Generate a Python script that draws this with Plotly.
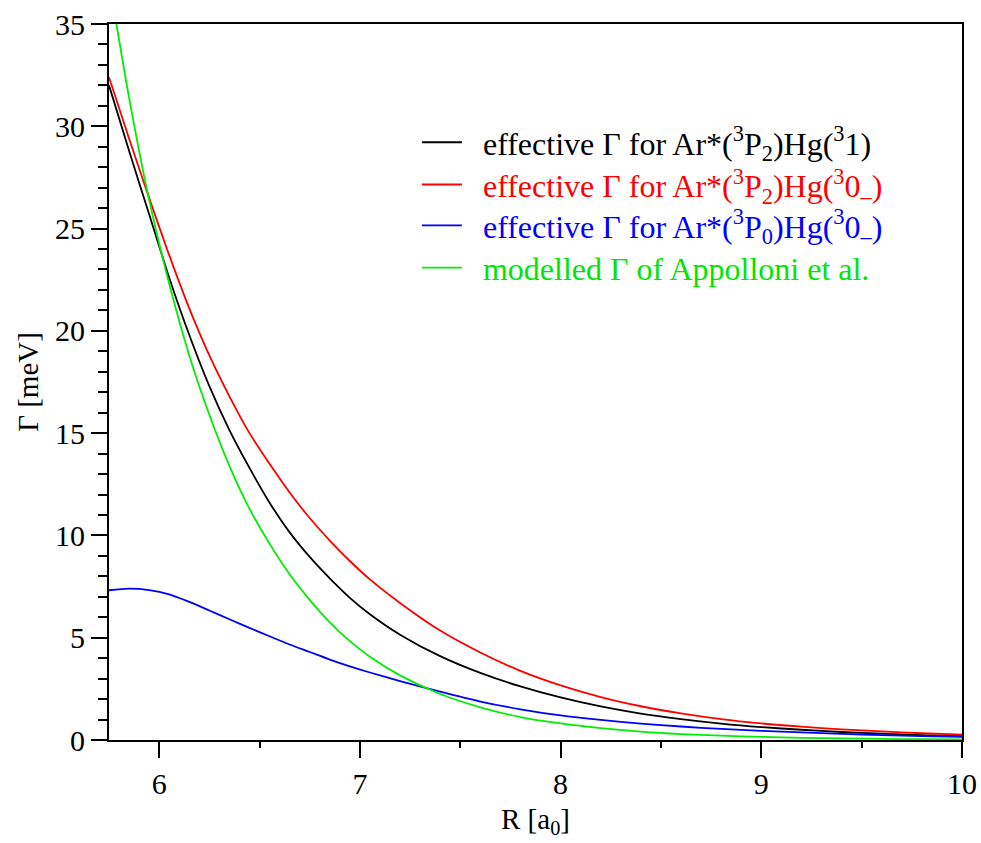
import plotly.graph_objects as go

R = [5.75, 5.85, 5.95, 6.05, 6.15, 6.25, 6.35, 6.45, 6.55, 6.65, 6.75, 6.85, 6.95, 7.05,
     7.2, 7.4, 7.6, 7.8, 8.0, 8.2, 8.4, 8.6, 8.8, 9.0, 9.2, 9.4, 9.6, 9.8, 10.0]

gamma_p2_31 = [32.0, 28.8, 25.7, 22.6, 19.8, 17.3, 15.15, 13.3, 11.6, 10.15, 8.95, 7.9, 6.95, 6.15,
               5.15, 4.1, 3.28, 2.62, 2.08, 1.64, 1.29, 1.02, 0.8, 0.63, 0.5, 0.39, 0.31, 0.24, 0.19]
gamma_p2_30 = [32.4, 29.4, 26.5, 23.7, 21.1, 18.8, 16.8, 15.0, 13.5, 12.1, 10.85, 9.75, 8.75, 7.85,
               6.7, 5.35, 4.28, 3.38, 2.67, 2.1, 1.65, 1.3, 1.02, 0.81, 0.65, 0.52, 0.42, 0.33, 0.26]
gamma_p0_30 = [7.32, 7.40, 7.33, 7.12, 6.75, 6.33, 5.9, 5.48, 5.07, 4.67, 4.3, 3.93, 3.6, 3.3,
               2.88, 2.36, 1.88, 1.5, 1.2, 0.98, 0.8, 0.66, 0.54, 0.45, 0.37, 0.3, 0.24, 0.19, 0.15]
gamma_appolloni = [37.2, 31.4, 26.4, 22.3, 18.8, 15.9, 13.4, 11.3, 9.6, 8.1, 6.85, 5.75, 4.83, 4.07,
                   3.16, 2.25, 1.6, 1.12, 0.81, 0.58, 0.41, 0.29, 0.21, 0.15, 0.105, 0.075, 0.053, 0.038, 0.027]

PAD = "\u00a0\u00a0"
names = [
    PAD + '<span style="color:#000000">effective Γ for Ar*(<sup>3</sup>P<sub>2</sub>)Hg(<sup>3</sup>1)</span>',
    PAD + '<span style="color:#ff0000">effective Γ for Ar*(<sup>3</sup>P<sub>2</sub>)Hg(<sup>3</sup>0<sub>–</sub>)</span>',
    PAD + '<span style="color:#0000ff">effective Γ for Ar*(<sup>3</sup>P<sub>0</sub>)Hg(<sup>3</sup>0<sub>–</sub>)</span>',
    PAD + '<span style="color:#00e600">modelled Γ of Appolloni et al.</span>',
]
series = [gamma_p2_31, gamma_p2_30, gamma_p0_30, gamma_appolloni]
colors = ["#000000", "#ff0000", "#0000ff", "#00ee00"]
legend_ids = ["legend", "legend2", "legend3", "legend4"]
legend_tops = [0.873, 0.814, 0.757, 0.698]

FONT = "Liberation Serif"

fig = go.Figure()
for nm, ys, c, lg in zip(names, series, colors, legend_ids):
    fig.add_trace(go.Scatter(x=R, y=ys, mode="lines", name=nm, legend=lg,
                             line=dict(color=c, width=1.8, shape="spline", smoothing=0.8)))

legend_style = dict(x=0.361, xanchor="left", yanchor="top",
                    bgcolor="rgba(0,0,0,0)", borderwidth=0,
                    font=dict(family=FONT, size=32), itemwidth=40)

fig.update_layout(
    width=981, height=843,
    margin=dict(l=109, r=19, t=24, b=103),
    paper_bgcolor="white", plot_bgcolor="white",
    font=dict(family=FONT, size=29, color="black"),
    showlegend=True,
    **{lg: dict(legend_style, y=yt) for lg, yt in zip(legend_ids, legend_tops)},
)
fig.update_xaxes(
    range=[5.75, 10], tick0=6, dtick=1, automargin=False,
    showline=True, linecolor="black", linewidth=2, mirror=True,
    ticks="outside", ticklen=16, tickwidth=2, tickcolor="black",
    minor=dict(dtick=0.5, ticks="outside", ticklen=6, tickwidth=2, tickcolor="black"),
    showgrid=False, zeroline=False,
    tickfont=dict(family=FONT, size=30),
    title=dict(text="R [a<sub>0</sub>]", font=dict(family=FONT, size=29), standoff=10),
)
fig.update_yaxes(
    range=[0, 35], tick0=0, dtick=5, automargin=False,
    showline=True, linecolor="black", linewidth=2, mirror=True,
    ticks="outside", ticklen=16, tickwidth=2, tickcolor="black",
    minor=dict(dtick=1, ticks="outside", ticklen=9, tickwidth=2, tickcolor="black"),
    showgrid=False, zeroline=False,
    tickfont=dict(family=FONT, size=30),
    title=dict(text="Γ [meV]", font=dict(family=FONT, size=29), standoff=8),
)

fig.write_html("out.html")
